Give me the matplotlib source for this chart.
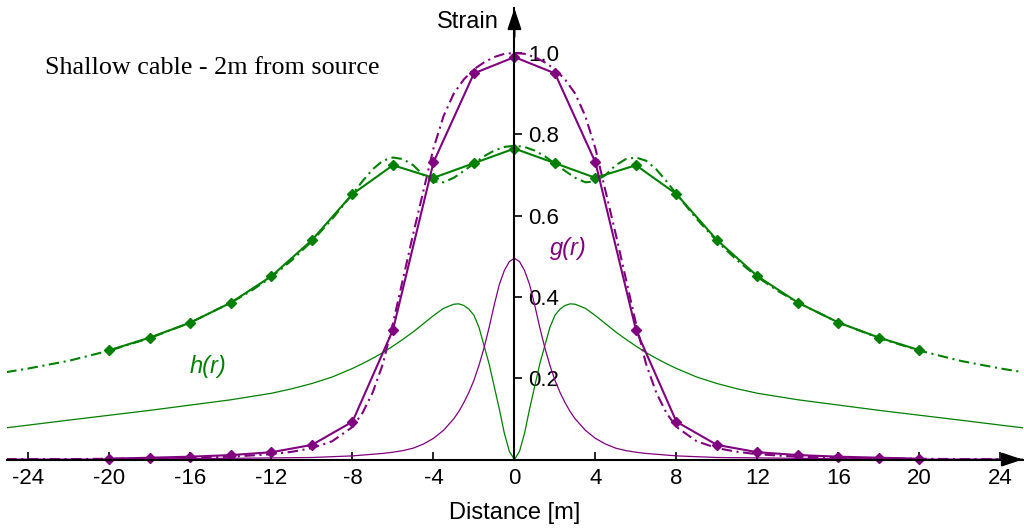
# perfil de deformación - cable somero
import matplotlib.pyplot as plt
import numpy as np

plt.rcParams['font.family'] = ['Liberation Sans', 'DejaVu Sans']
plt.rcParams['axes.unicode_minus'] = False

# curvas finas g(r) y h(r), leídas para r >= 0 (son simétricas)
r_fino = [0, 0.25, 0.5, 0.75, 1.0, 1.25, 1.5, 1.75, 2.0, 2.25, 2.5, 2.75, 3.0,
          3.5, 4.0, 4.5, 5.0, 5.5, 6.0, 6.5, 7.0, 7.5, 8, 9, 10, 11, 12, 14, 16, 18, 20, 22, 25.1]
h_fino = [0.0, 0.02, 0.065, 0.125, 0.18, 0.235, 0.28, 0.325, 0.355, 0.370, 0.379, 0.383, 0.382,
          0.372, 0.354, 0.334, 0.314, 0.296, 0.279, 0.263, 0.249, 0.236, 0.224, 0.203, 0.187,
          0.174, 0.163, 0.147, 0.134, 0.121, 0.109, 0.097, 0.078]
g_fino = [0.495, 0.487, 0.465, 0.43, 0.38, 0.325, 0.275, 0.232, 0.195, 0.165, 0.14, 0.118, 0.10,
          0.072, 0.052, 0.038, 0.028, 0.022, 0.018, 0.015, 0.013, 0.011, 0.009, 0.007, 0.005,
          0.0045, 0.004, 0.003, 0.002, 0.002, 0.001, 0.001, 0.001]

# puntos medidos (cada 2 m)
r_med = [0, 2, 4, 6, 8, 10, 12, 14, 16, 18, 20]
g_med = [0.99, 0.95, 0.731, 0.319, 0.093, 0.036, 0.018, 0.011, 0.007, 0.0045, 0.002]
h_med = [0.765, 0.729, 0.693, 0.724, 0.653, 0.540, 0.451, 0.386, 0.337, 0.300, 0.269]

# curvas de ajuste (raya-punto)
r_aj_g = [0, 0.5, 1, 1.5, 2, 2.5, 3, 3.5, 4, 4.5, 5, 5.5, 6, 6.5, 7, 7.5, 8, 9, 10, 11, 12,
          14, 16, 18, 20, 22, 25.1]
g_aj = [1.0, 0.998, 0.99, 0.977, 0.96, 0.935, 0.90, 0.845, 0.765, 0.66, 0.555, 0.445, 0.335,
        0.235, 0.165, 0.115, 0.08, 0.045, 0.028, 0.019, 0.013, 0.007, 0.004, 0.003, 0.002,
        0.001, 0.001]
r_aj_h = [0, 0.5, 1, 1.5, 2, 2.5, 3, 3.5, 4, 4.5, 5, 5.5, 6, 6.5, 7, 7.5, 8, 9, 10, 11, 12,
          13, 14, 16, 18, 20, 22, 24, 25.1]
h_aj = [0.772, 0.769, 0.76, 0.746, 0.728, 0.71, 0.693, 0.682, 0.684, 0.70, 0.724, 0.739, 0.743,
        0.735, 0.714, 0.685, 0.653, 0.592, 0.537, 0.49, 0.449, 0.415, 0.386, 0.337, 0.299,
        0.268, 0.243, 0.224, 0.215]

x_ticks = list(range(-24, 25, 4))
y_ticks = [0.2, 0.4, 0.6, 0.8, 1.0]

morado = '#800080'
verde = '#008000'


def espejo(r, v):
    # completa el lado negativo con la simetría del perfil
    r = np.asarray(r, float)
    v = np.asarray(v, float)
    return np.concatenate([-r[:0:-1], r]), np.concatenate([v[:0:-1], v])


fig = plt.figure(figsize=(10.24, 5.29), dpi=100)
ax = fig.add_axes([7.2 / 1024, 65.4 / 529, 1015.5 / 1024, 455.3 / 529])
ax.set_xlim(-25.05, 25.1)
ax.set_ylim(-0.01, 1.11)

raya_punto = (0, (5, 2.2, 1, 2.2))

ax.plot(*espejo(r_fino, h_fino), color=verde, lw=0.9)
ax.plot(*espejo(r_fino, g_fino), color=morado, lw=0.9)
ax.plot(*espejo(r_aj_h, h_aj), color=verde, lw=1.5, ls=raya_punto)
ax.plot(*espejo(r_aj_g, g_aj), color=morado, lw=1.5, ls=raya_punto)
ax.plot(*espejo(r_med, h_med), color=verde, lw=1.5, marker='D', ms=5.5)
ax.plot(*espejo(r_med, g_med), color=morado, lw=1.5, marker='D', ms=5.5)

# ejes cruzados en el origen
for lado in ['top', 'left']:
    ax.spines[lado].set_visible(False)
ax.spines['bottom'].set_position(('data', 0))
ax.spines['right'].set_position(('data', 0))
ax.spines['right'].set_bounds(0, 1.11)
ax.spines['bottom'].set_linewidth(1.5)
ax.spines['right'].set_linewidth(1.5)
ax.yaxis.tick_right()
ax.set_xticks(x_ticks)
ax.set_yticks(y_ticks)
ax.set_yticklabels([f"{v:.1f}" for v in y_ticks])
ax.tick_params(axis='x', direction='in', length=6, width=1.2, labelsize=16, pad=6)
ax.tick_params(axis='y', direction='out', length=6, width=1.2, labelsize=16, pad=4)

flecha = dict(arrowstyle='-|>,head_length=0.9,head_width=0.3', color='k', lw=1.5,
              mutation_scale=14, shrinkA=0, shrinkB=0)
ax.annotate('', xy=(0, 1.11), xytext=(0, 1.04), arrowprops=flecha, annotation_clip=False)
ax.annotate('', xy=(25.1, 0), xytext=(24.2, 0), arrowprops=flecha, annotation_clip=False)

ax.text(2.64, 0.503, 'g(r)', color=morado, style='italic', fontsize=17, ha='center', va='baseline')
ax.text(-15.14, 0.2135, 'h(r)', color=verde, style='italic', fontsize=17, ha='center', va='baseline')
ax.text(-23.19, 0.948, 'Shallow cable - 2m from source', family=['Liberation Serif', 'DejaVu Serif'],
        fontsize=18.8, ha='left', va='baseline')
ax.text(-0.75, 1.061, 'Strain', fontsize=17, ha='right', va='baseline')
fig.text(514.5 / 1024, 1 - 519 / 529, 'Distance [m]', fontsize=17, ha='center', va='baseline')

fig.savefig('out.png', dpi=100)
